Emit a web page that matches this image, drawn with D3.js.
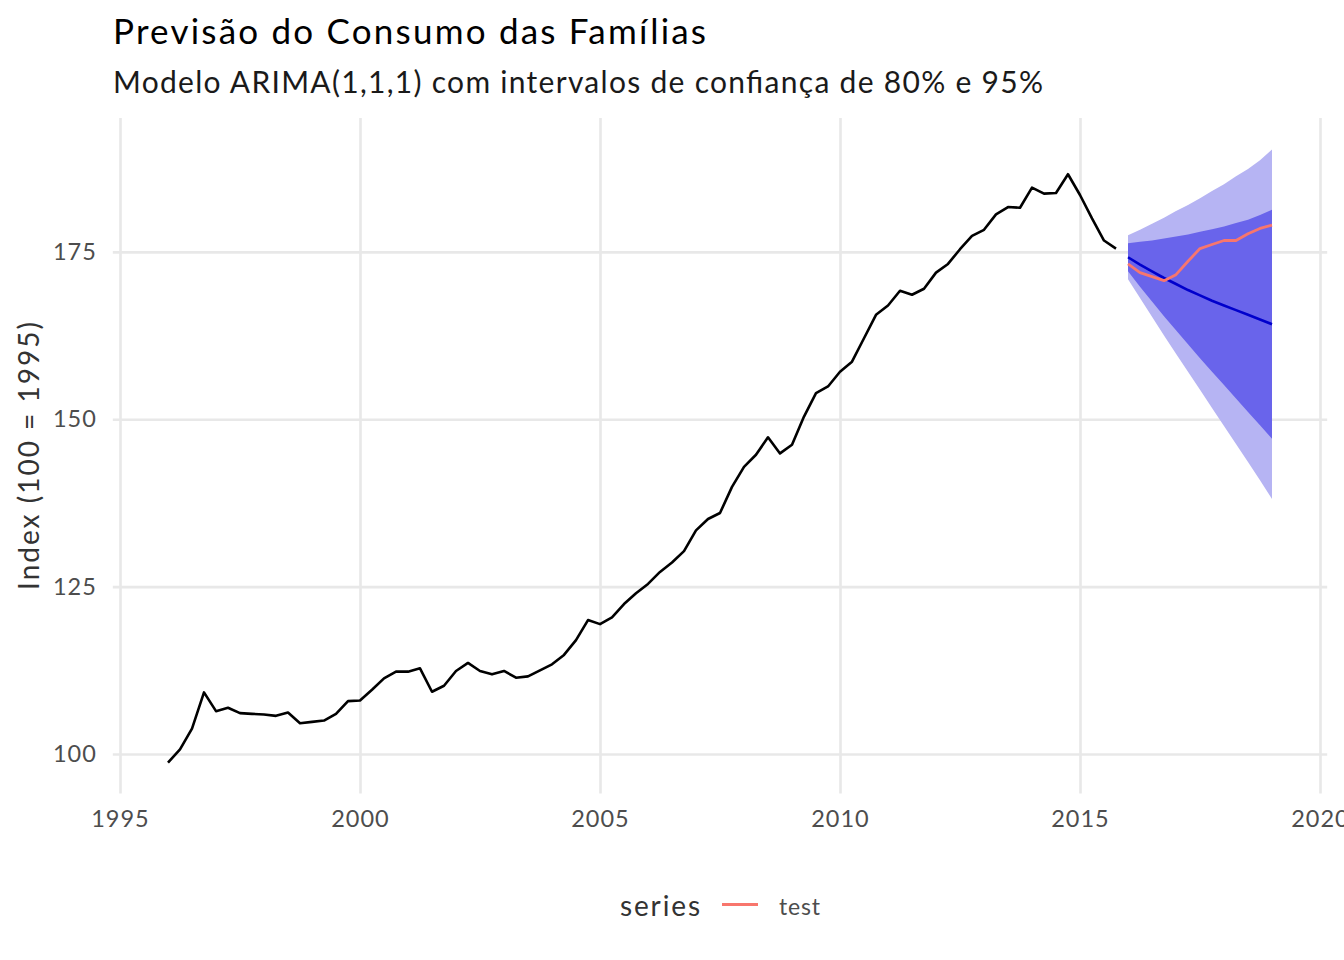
<!DOCTYPE html>
<html>
<head>
<meta charset="utf-8">
<title>Previsão do Consumo das Famílias</title>
<script src="https://cdn.jsdelivr.net/npm/d3@7"></script>
<style>
  body { margin: 0; background: #ffffff; }
  svg { display: block; font-family: Lato, "Noto Sans", sans-serif; }
</style>
</head>
<body>
<script>
// quarterly series, first observation 1996 Q1
const histStart = 1996;
const histValues = [
  98.7, 100.7, 103.8, 109.2,
  106.4, 106.9, 106.1, 106.0,
  105.9, 105.7, 106.2, 104.6,
  104.8, 105.0, 106.0, 107.9,
  108.0, 109.6, 111.3, 112.3,
  112.3, 112.8, 109.3, 110.2,
  112.4, 113.6, 112.4, 111.9,
  112.4, 111.4, 111.6, 112.5,
  113.4, 114.8, 117.0, 120.0,
  119.4, 120.4, 122.4, 124.0,
  125.4, 127.2, 128.6, 130.3,
  133.4, 135.1, 136.0, 139.9,
  142.9, 144.7, 147.3, 144.9,
  146.2, 150.4, 153.9, 154.9,
  157.1, 158.6, 162.1, 165.6,
  167.0, 169.2, 168.6, 169.5,
  171.9, 173.2, 175.4, 177.4,
  178.3, 180.6, 181.7, 181.6,
  184.6, 183.7, 183.8, 186.6,
  183.5, 180.0, 176.7, 175.5
];

// forecast horizon, 2016 Q1 .. 2019 Q1
const fcStart = 2016;
const fcMean = [174.2, 173.1, 172.1, 171.1, 170.2, 169.3, 168.5, 167.7, 167.0, 166.3, 165.6, 164.9, 164.2];
const lo80 = [172.1, 169.8, 167.6, 165.4, 163.3, 161.2, 159.1, 157.1, 155.1, 153.1, 151.1, 149.1, 147.1];
const hi80 = [176.3, 176.5, 176.7, 177.0, 177.3, 177.6, 178.0, 178.4, 178.8, 179.3, 179.8, 180.5, 181.3];
const lo95 = [170.9, 168.1, 165.3, 162.5, 159.8, 157.1, 154.4, 151.7, 149.0, 146.3, 143.6, 140.9, 138.1];
const hi95 = [177.5, 178.3, 179.2, 180.1, 181.1, 182.0, 183.0, 184.1, 185.1, 186.3, 187.4, 188.7, 190.3];
const testValues = [173.2, 171.9, 171.3, 170.7, 171.6, 173.6, 175.5, 176.1, 176.7, 176.7, 177.7, 178.5, 179.0];

const xTicks = [1995, 2000, 2005, 2010, 2015, 2020];
const yTicks = [100, 125, 150, 175];

const width = 1344;
const height = 960;
const panel = { left: 112.8, right: 1327.2, top: 118, bottom: 793.5 };

const svg = d3.select('body')
              .append('svg')
              .attr('width', width)
              .attr('height', height);

svg.append('rect')
   .attr('width', width)
   .attr('height', height)
   .attr('fill', '#ffffff');

const xScale = d3.scaleLinear()
                 .domain([1994.85, 2020.15])
                 .range([panel.left, panel.right]);

const yScale = d3.scaleLinear()
                 .domain([94.1, 195.0])
                 .range([panel.bottom, panel.top]);

// grid lines (major only)
const xGrid = d3.axisBottom(xScale)
                .tickValues(xTicks)
                .tickSize(-(panel.bottom - panel.top))
                .tickFormat('');
svg.append('g')
   .attr('class', 'grid')
   .attr('transform', 'translate(0,' + panel.bottom + ')')
   .call(xGrid);

const yGrid = d3.axisLeft(yScale)
                .tickValues(yTicks)
                .tickSize(-(panel.right - panel.left))
                .tickFormat('');
svg.append('g')
   .attr('class', 'grid')
   .attr('transform', 'translate(' + panel.left + ',0)')
   .call(yGrid);

svg.selectAll('.grid .domain').remove();
svg.selectAll('.grid line')
   .attr('stroke', '#e8e8e8')
   .attr('stroke-width', 2.6);

// tick labels
const xAxis = d3.axisBottom(xScale)
                .tickValues(xTicks)
                .tickSize(0)
                .tickPadding(17)
                .tickFormat(d3.format('d'));
const gx = svg.append('g')
              .attr('transform', 'translate(0,' + panel.bottom + ')')
              .call(xAxis);

const yAxis = d3.axisLeft(yScale)
                .tickValues(yTicks)
                .tickSize(0)
                .tickPadding(16);
const gy = svg.append('g')
              .attr('transform', 'translate(' + panel.left + ',0)')
              .call(yAxis);

[gx, gy].forEach((g) => {
  g.select('.domain').remove();
  g.selectAll('text')
   .attr('fill', '#4d4d4d')
   .style('font-size', '23.5px')
   .style('letter-spacing', '1px')
   .style('font-family', 'Lato, "Noto Sans", sans-serif');
});

// forecast bands
const fcData = fcMean.map((m, i) => ({
  t: fcStart + i / 4,
  mean: m,
  lo80: lo80[i],
  hi80: hi80[i],
  lo95: lo95[i],
  hi95: hi95[i],
  test: testValues[i]
}));

const band = (lo, hi) => d3.area()
                           .x((d) => xScale(d.t))
                           .y0((d) => yScale(d[lo]))
                           .y1((d) => yScale(d[hi]));

svg.append('path')
   .datum(fcData)
   .attr('d', band('lo95', 'hi95'))
   .attr('fill', '#b6b4f3');

svg.append('path')
   .datum(fcData)
   .attr('d', band('lo80', 'hi80'))
   .attr('fill', '#6964eb');

// history line
const histData = histValues.map((v, i) => ({ t: histStart + i / 4, v: v }));
const line = d3.line()
               .x((d) => xScale(d.t))
               .y((d) => yScale(d.v));

svg.append('path')
   .datum(histData)
   .attr('d', line)
   .attr('fill', 'none')
   .attr('stroke', '#000000')
   .attr('stroke-width', 2.6)
   .attr('stroke-linejoin', 'round');

// point forecast
svg.append('path')
   .datum(fcData.map((d) => ({ t: d.t, v: d.mean })))
   .attr('d', line)
   .attr('fill', 'none')
   .attr('stroke', '#0000cc')
   .attr('stroke-width', 2.6);

// test series
svg.append('path')
   .datum(fcData.map((d) => ({ t: d.t, v: d.test })))
   .attr('d', line)
   .attr('fill', 'none')
   .attr('stroke', '#f8766d')
   .attr('stroke-width', 2.8)
   .attr('stroke-linejoin', 'round');

// titles
svg.append('text')
   .attr('x', 113)
   .attr('y', 44)
   .attr('fill', '#000000')
   .attr('textLength', 593)
   .attr('lengthAdjust', 'spacing')
   .style('font-size', '35px')
   .text('Previsão do Consumo das Famílias');

svg.append('text')
   .attr('x', 113)
   .attr('y', 93)
   .attr('fill', '#1a1a1a')
   .attr('textLength', 930)
   .attr('lengthAdjust', 'spacing')
   .style('font-size', '30px')
   .text('Modelo ARIMA(1,1,1) com intervalos de confiança de 80% e 95%');

svg.append('text')
   .attr('transform', 'translate(39,456) rotate(-90)')
   .attr('x', -134)
   .attr('fill', '#333333')
   .attr('textLength', 268)
   .attr('lengthAdjust', 'spacing')
   .style('font-size', '28px')
   .text('Index (100 = 1995)');

// legend
const legend = svg.append('g');
legend.append('text')
      .attr('x', 620)
      .attr('y', 916)
      .attr('fill', '#333333')
      .attr('textLength', 80)
      .attr('lengthAdjust', 'spacing')
      .style('font-size', '28px')
      .text('series');
legend.append('line')
      .attr('x1', 722)
      .attr('x2', 758)
      .attr('y1', 904.5)
      .attr('y2', 904.5)
      .attr('stroke', '#f8766d')
      .attr('stroke-width', 2.8);
legend.append('text')
      .attr('x', 779)
      .attr('y', 915)
      .attr('fill', '#4d4d4d')
      .attr('textLength', 41)
      .attr('lengthAdjust', 'spacing')
      .style('font-size', '23px')
      .text('test');
</script>
</body>
</html>
